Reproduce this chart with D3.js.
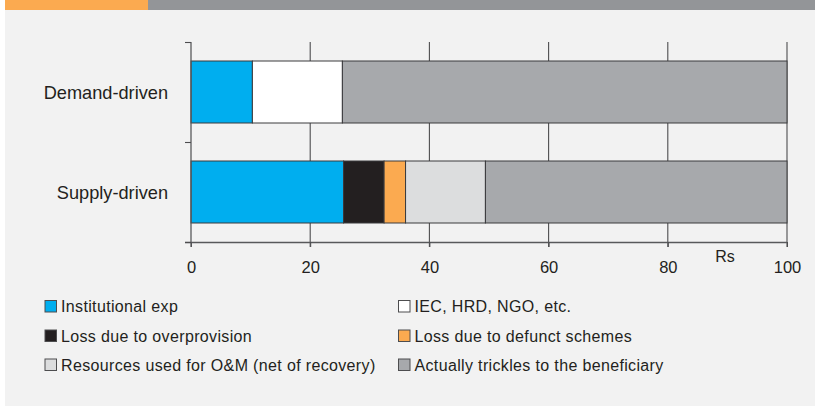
<!DOCTYPE html>
<html>
<head>
<meta charset="utf-8">
<script src="https://cdn.jsdelivr.net/npm/d3@7"></script>
<style>
  html, body { margin: 0; padding: 0; background: #ffffff; }
  svg { display: block; font-family: "Liberation Sans", Arial, Helvetica, sans-serif; }
</style>
</head>
<body>
<svg id="chart" width="815" height="406"></svg>
<script>
// Where each rupee goes: demand-driven vs supply-driven programmes (Rs per 100 spent)
const categories = ["Demand-driven", "Supply-driven"];
const seriesNames = [
  "Institutional exp",
  "IEC, HRD, NGO, etc.",
  "Loss due to overprovision",
  "Loss due to defunct schemes",
  "Resources used for O&M (net of recovery)",
  "Actually trickles to the beneficiary"
];
// values per category, in the order of seriesNames
const institutionalExp   = [10.3, 25.6];
const iecHrdNgo          = [15.1, 0];
const lossOverprovision  = [0, 6.8];
const lossDefunct        = [0, 3.6];
const resourcesOM        = [0, 13.4];
const tricklesBeneficiary = [74.6, 50.6];
const xTicks = [0, 20, 40, 60, 80, 100];
const axisUnit = "Rs";

const colors = ["#00aeef", "#ffffff", "#231f20", "#fbaa50", "#dcddde", "#a7a9ac"];

// legend layout: two columns, items filled row by row
const legendOrder = [0, 1, 2, 3, 4, 5];

const seriesValues = [institutionalExp, iecHrdNgo, lossOverprovision, lossDefunct, resourcesOM, tricklesBeneficiary];
const rows = categories.map((c, i) => {
  const r = { category: c };
  seriesNames.forEach((s, j) => { r[s] = seriesValues[j][i]; });
  return r;
});

const svg = d3.select("#chart");
const W = 815, H = 406;

// panel background and header strip
svg.append("rect").attr("x", 5).attr("y", 0).attr("width", W - 5).attr("height", H).attr("fill", "#f2f2f2");
svg.append("rect").attr("x", 5).attr("y", 0).attr("width", 143).attr("height", 10).attr("fill", "#fbaa50");
svg.append("rect").attr("x", 148).attr("y", 0).attr("width", W - 148).attr("height", 10).attr("fill", "#939598");

const plot = { left: 191, right: 787, top: 42, bottom: 242 };

const x = d3.scaleLinear().domain([0, 100]).range([plot.left, plot.right]);
const y = d3.scaleBand().domain(categories).range([plot.top, plot.bottom]).paddingInner(0.38).paddingOuter(0.19);
const yOuter = d3.scaleBand().domain(categories).range([plot.top, plot.bottom]);

// vertical gridlines (drawn under the bars, extend as ticks below the axis)
svg.append("g").selectAll("line").data(xTicks.slice(1)).join("line")
  .attr("x1", d => x(d)).attr("x2", d => x(d))
  .attr("y1", plot.top).attr("y2", plot.bottom + 5)
  .attr("stroke", "#4d4d4f").attr("stroke-width", 1.1);

// stacked bars
const stack = d3.stack().keys(seriesNames);
const layers = stack(rows);
svg.append("g").selectAll("g").data(layers).join("g")
  .attr("fill", (d, i) => colors[i])
  .selectAll("rect").data(d => d.filter(p => p[1] - p[0] > 0)).join("rect")
  .attr("x", d => x(d[0]))
  .attr("y", d => y(d.data.category))
  .attr("width", d => x(d[1]) - x(d[0]))
  .attr("height", y.bandwidth())
  .attr("stroke", "#3a3a3c").attr("stroke-width", 1);

// x axis
const xAxis = d3.axisBottom(x).tickValues(xTicks).tickSize(5).tickPadding(14).tickSizeOuter(0);
const gx = svg.append("g").attr("transform", `translate(0,${plot.bottom})`).call(xAxis);
gx.select(".domain").attr("d", `M${plot.left - 6},0.5H${plot.right}`).attr("stroke", "#58595b").attr("stroke-width", 1.3);
gx.selectAll(".tick line").attr("stroke", "#4d4d4f");
gx.selectAll(".tick text").attr("font-size", 16.5).attr("fill", "#231f20")
  .attr("font-family", "'Liberation Sans', Arial, sans-serif");

// unit label
svg.append("text").attr("x", x(89.6)).attr("y", 262).attr("text-anchor", "middle")
  .attr("font-size", 16).attr("fill", "#231f20").text(axisUnit);

// y axis with ticks at band boundaries
const gy = svg.append("g");
gy.append("line").attr("x1", plot.left).attr("x2", plot.left).attr("y1", plot.top).attr("y2", plot.bottom + 5)
  .attr("stroke", "#58595b").attr("stroke-width", 1.3);
const bounds = categories.map(c => yOuter(c)).concat([plot.bottom]);
gy.selectAll("line.b").data(bounds).join("line").attr("class", "b")
  .attr("x1", plot.left - 6).attr("x2", plot.left)
  .attr("y1", d => d + 0.5).attr("y2", d => d + 0.5)
  .attr("stroke", "#4d4d4f").attr("stroke-width", 1.1);
gy.selectAll("text").data(categories).join("text")
  .attr("x", 168).attr("y", d => y(d) + y.bandwidth() / 2 + 6.5)
  .attr("text-anchor", "end").attr("font-size", 18.2).attr("fill", "#231f20")
  .text(d => d);

// legend
const legend = svg.append("g");
const colX = [45, 398.5], rowY = [312, 341.5, 370.5];
legendOrder.forEach((si, k) => {
  const cx = colX[k % 2], cy = rowY[Math.floor(k / 2)];
  legend.append("rect").attr("x", cx).attr("y", cy - 11.5).attr("width", 11.5).attr("height", 11.5)
    .attr("fill", colors[si]).attr("stroke", "#4d4d4f").attr("stroke-width", 1);
  legend.append("text").attr("x", cx + 16).attr("y", cy)
    .attr("font-size", 16).attr("letter-spacing", 0.35).attr("fill", "#231f20").text(seriesNames[si]);
});
</script>
</body>
</html>
